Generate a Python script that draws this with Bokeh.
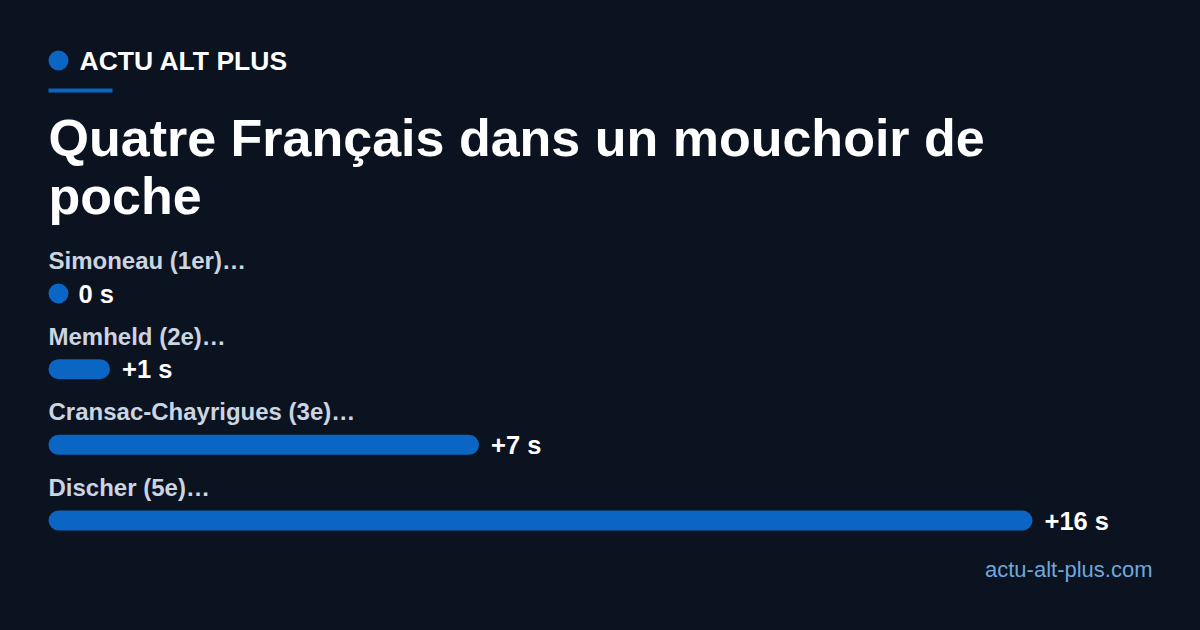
from bokeh.plotting import figure
from bokeh.models import Range1d, ColumnDataSource
from bokeh.core.properties import value
from bokeh.embed import file_html
from bokeh.resources import INLINE
import numpy as np

# ---- data ----
riders = ["Simoneau (1er)…", "Memheld (2e)…", "Cransac-Chayrigues (3e)…", "Discher (5e)…"]
gaps_s = [0, 1, 7, 16]
gap_labels = ["0 s", "+1 s", "+7 s", "+16 s"]
brand = "ACTU ALT PLUS"
title_lines = ["Quatre Français dans un mouchoir de", "poche"]
footer = "actu-alt-plus.com"

# ---- style / layout ----
BG = "#0b1220"
BLUE = "#0a66c2"
LABEL_C = "#cbd5e1"
FOOT_C = "#6fa8dc"
FONT = value("Liberation Sans")

W, H = 1184, 614
OX, OY = 0, 0
SCALE = 61.5          # px per second
X0 = 48               # page x of zero
ROW0 = 293            # page y of first bar centre
STEP = 75.67          # px between rows
BAR_H = 20
BASE_K = 0.42         # renderer baseline correction (fraction of font size)

def px2x(px):
    return (px - X0) / SCALE

def py2y(py):
    return (py - ROW0) / STEP

def base(py, fs):
    return py2y(py - BASE_K * fs)

p = figure(width=W, height=H, output_backend="svg", toolbar_location=None,
           x_range=Range1d(px2x(OX), px2x(OX + W)),
           y_range=Range1d(py2y(OY + H), py2y(OY)),
           x_axis_location=None, y_axis_location=None, min_border=0)
p.grid.visible = False
p.outline_line_color = None
p.background_fill_color = BG
p.border_fill_color = BG

rows = np.arange(len(riders))
vals = np.array(gaps_s, dtype=float)
min_w = BAR_H / SCALE
right = np.maximum(vals, min_w)
src = ColumnDataSource(dict(y=rows, left=np.zeros(len(rows)), right=right,
                            name=riders, lab=gap_labels,
                            off=np.where(vals > 0, 12, 10)))

p.hbar(y="y", left="left", right="right", height=BAR_H / STEP, source=src,
       fill_color=BLUE, line_color=None, border_radius=BAR_H // 2)

p.text(x="right", y="y", text="lab", source=src, x_offset="off",
       text_baseline="middle", text_align="left", text_color="#ffffff",
       text_font=FONT, text_font_style="bold", text_font_size="25.5px")

LBL_FS = 24
p.text(x="left", y="y", text="name", source=src, y_offset=-23 - BASE_K * LBL_FS,
       text_baseline="alphabetic", text_align="left", text_color=LABEL_C,
       text_font=FONT, text_font_style="bold", text_font_size="%gpx" % LBL_FS)

# ---- header ----
p.quad(left=[px2x(48)], right=[px2x(68)], top=[py2y(50)], bottom=[py2y(70)],
       fill_color=BLUE, line_color=None, border_radius=10)
p.quad(left=[px2x(48)], right=[px2x(112)], top=[py2y(88)], bottom=[py2y(92)],
       fill_color=BLUE, line_color=None)
p.text(x=[px2x(79)], y=[base(72, 26.5)], text=[brand], text_baseline="alphabetic",
       text_color="#ffffff", text_font=FONT, text_font_style="bold",
       text_font_size="26.5px")
p.text(x=[px2x(48), px2x(48)], y=[base(159, 52), base(217, 52)], text=title_lines,
       text_baseline="alphabetic", text_color="#ffffff", text_font=FONT,
       text_font_style="bold", text_font_size="52px")
p.text(x=[px2x(1152)], y=[base(578, 22)], text=[footer], text_baseline="alphabetic",
       text_align="right", text_color=FOOT_C, text_font=FONT,
       text_font_size="22px")

html = file_html(p, INLINE)
html = html.replace("<head>", "<head><style>html,body{background:%s;}</style>" % BG, 1)
open("out.html", "w").write(html)
